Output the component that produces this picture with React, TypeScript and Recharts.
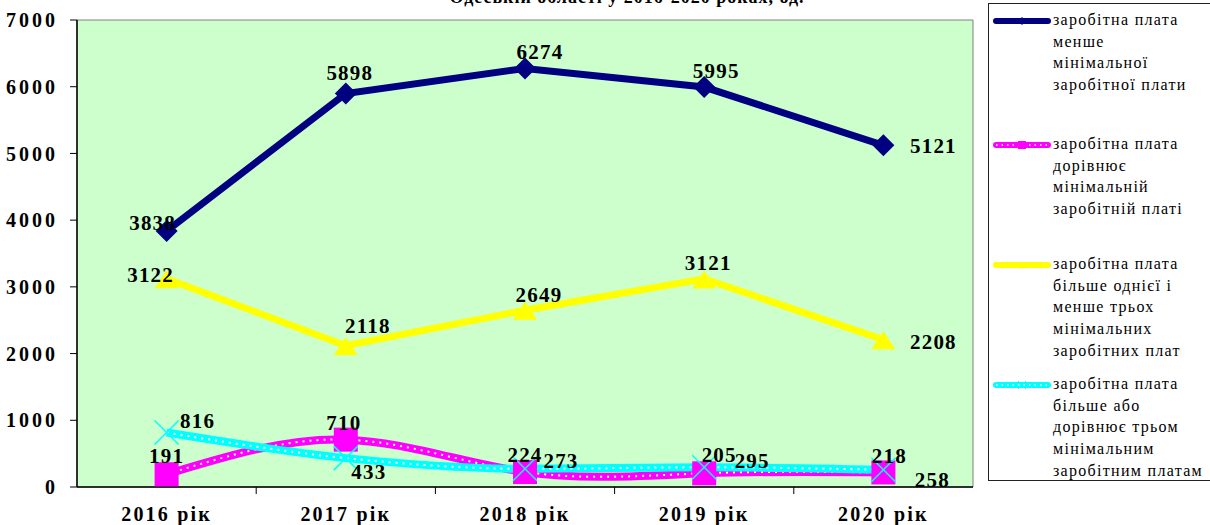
import React from 'react';
import {
  LineChart, Line, XAxis, YAxis, CartesianGrid, ReferenceArea, LabelList,
} from 'recharts';

const categories = ['2016 рік', '2017 рік', '2018 рік', '2019 рік', '2020 рік'];
const belowMin = [3838, 5898, 6274, 5995, 5121];
const equalMin = [191, 710, 224, 205, 218];
const oneToThree = [3122, 2118, 2649, 3121, 2208];
const threeOrMore = [816, 433, 273, 295, 258];
const yTicks = [0, 1000, 2000, 3000, 4000, 5000, 6000, 7000];

const data = categories.map((c, i) => ({
  idx: i,
  cat: c,
  belowMin: belowMin[i],
  equalMin: equalMin[i],
  oneToThree: oneToThree[i],
  threeOrMore: threeOrMore[i],
}));

const NAVY = '#000080';
const MAGENTA = '#FF00FF';
const YELLOW = '#FFFF00';
const CYAN = '#00FFFF';
const serif = '"Liberation Serif", "Times New Roman", serif';

// label offsets from the point (Excel-style placement)
const navyOff = [[-14, -8], [4, -21], [15, -16], [12, -16], [50, 1]];
const yellowOff = [[-16, -4], [22, -20], [14, -15], [4, -16], [50, 2]];
const cyanOff = [[31, -12], [23, 14], [36, -8], [48, -6], [49, 10]];
const magentaOff = [[0, -18], [-2, -17], [0, -17], [15, -18], [6, -16]];

function makeLabel(off: number[][]) {
  return (props: any) => {
    const { x, y, value, index } = props;
    const [dx, dy] = off[index] ?? [0, -16];
    return (
      <text
        x={x + dx}
        y={y + dy}
        textAnchor="middle"
        dominantBaseline="central"
        style={{ fontFamily: serif, fontWeight: 700, fontSize: 21, letterSpacing: 1.2 }}
        fill="#000"
      >
        {value}
      </text>
    );
  };
}

const Diamond = ({ cx, cy, r = 11, fill = NAVY }: any) => (
  <path d={`M${cx},${cy - r}L${cx + r},${cy}L${cx},${cy + r}L${cx - r},${cy}Z`} fill={fill} />
);
const Square = ({ cx, cy, s = 12, fill = MAGENTA }: any) => (
  <rect x={cx - s} y={cy - s} width={s * 2} height={s * 2} fill={fill} />
);
const Triangle = ({ cx, cy, s = 12, fill = YELLOW }: any) => (
  <path d={`M${cx},${cy - s * 0.7}L${cx + s},${cy + s * 0.8}L${cx - s},${cy + s * 0.8}Z`} fill={fill} />
);
const Cross = ({ cx, cy, s = 12, stroke = CYAN, w = 1.5 }: any) => (
  <g stroke={stroke} strokeWidth={w}>
    <line x1={cx - s} y1={cy - s} x2={cx + s} y2={cy + s} />
    <line x1={cx - s} y1={cy + s} x2={cx + s} y2={cy - s} />
  </g>
);

const XTick = (props: any) => {
  const { x, y, payload } = props;
  const v = payload.value;
  if (Number.isInteger(v)) {
    return (
      <text
        x={x}
        y={y + 34}
        textAnchor="middle"
        style={{ fontFamily: serif, fontWeight: 700, fontSize: 20, letterSpacing: 2.2 }}
        fill="#000"
      >
        {categories[v]}
      </text>
    );
  }
  return <line x1={x} y1={y} x2={x} y2={y + 7} stroke="#000" strokeWidth={1} />;
};

function LegendSample({ color, dotted, marker }: { color: string; dotted?: boolean; marker: React.ReactNode }) {
  return (
    <svg width={60} height={16} style={{ position: 'absolute', left: 3, top: 0 }}>
      <line x1={4} y1={8} x2={56} y2={8} stroke={color} strokeWidth={6} strokeLinecap="round" />
      {dotted && <line x1={4} y1={8} x2={56} y2={8} stroke="#fff" strokeWidth={1.5} strokeDasharray="1.5 4" />}
      {marker}
    </svg>
  );
}

const legendItems = [
  { top: 9, lines: ['заробітна плата', 'менше', 'мінімальної', 'заробітної плати'], color: NAVY, dotted: false,
    marker: <Diamond cx={30} cy={8} r={4} /> },
  { top: 133, lines: ['заробітна плата', 'дорівнює', 'мінімальній', 'заробітній платі'], color: MAGENTA, dotted: true,
    marker: <Square cx={30} cy={8} s={4} /> },
  { top: 253, lines: ['заробітна плата', 'більше однієї і', 'менше трьох', 'мінімальних', 'заробітних плат'], color: YELLOW, dotted: false,
    marker: <Triangle cx={30} cy={8} s={4} /> },
  { top: 373, lines: ['заробітна плата', 'більше або', 'дорівнює трьом', 'мінімальним', 'заробітним платам'], color: CYAN, dotted: true,
    marker: <Cross cx={30} cy={8} s={4} w={1} /> },
];

export default function App() {
  return (
    <div style={{ position: 'absolute', left: 0, top: 0, width: 1210, height: 525, overflow: 'hidden', background: '#fff' }}>
      <div
        style={{
          position: 'absolute', left: 427, top: -12, width: 400, textAlign: 'center', whiteSpace: 'nowrap',
          fontFamily: serif, fontWeight: 700, fontSize: 18, lineHeight: '18px', letterSpacing: 1,
        }}
      >
        Одеській області у 2016-2020 роках, од.
      </div>

      <LineChart width={1210} height={525} data={data} margin={{ top: 20, right: 237, bottom: 0, left: 0 }}>
        <CartesianGrid horizontal={false} vertical={false} fill="#CCFFCC" />
        <ReferenceArea x1={-0.5} x2={4.5} y1={0} y2={7000} fill="none" stroke="#808080" strokeWidth={1} />
        <XAxis
          dataKey="idx"
          type="number"
          domain={[-0.5, 4.5]}
          ticks={[0, 0.5, 1, 1.5, 2, 2.5, 3, 3.5, 4]}
          tick={<XTick />}
          tickLine={false}
          tickSize={0}
          tickMargin={0}
          axisLine={{ stroke: '#000', strokeWidth: 1.5 }}
          height={38}
          interval={0}
        />
        <YAxis
          domain={[0, 7000]}
          ticks={yTicks}
          width={77}
          tickSize={7}
          tickMargin={12}
          axisLine={{ stroke: '#000', strokeWidth: 1.5 }}
          tickLine={{ stroke: '#000' }}
          tick={{ fill: '#000', fontFamily: serif, fontWeight: 700, fontSize: 20, letterSpacing: 3 } as any}
        />

        {/* дорівнює мінімальній — товста пурпурна лінія з білими крапками */}
        <Line type="natural" dataKey="equalMin" stroke={MAGENTA} strokeWidth={8} dot={false} isAnimationActive={false} />
        <Line
          type="natural"
          dataKey="equalMin"
          stroke="#fff"
          strokeWidth={2}
          strokeDasharray="2 5"
          dot={(p: any) => <Square key={`sq-${p.index}`} cx={p.cx} cy={p.cy} />}
          isAnimationActive={false}
        >
          <LabelList dataKey="equalMin" content={makeLabel(magentaOff)} />
        </Line>

        {/* три і більше — блакитна */}
        <Line type="monotone" dataKey="threeOrMore" stroke={CYAN} strokeWidth={8} dot={false} isAnimationActive={false} />
        <Line
          type="monotone"
          dataKey="threeOrMore"
          stroke="#fff"
          strokeWidth={2}
          strokeDasharray="2 5"
          dot={(p: any) => <Cross key={`cr-${p.index}`} cx={p.cx} cy={p.cy} />}
          isAnimationActive={false}
        >
          <LabelList dataKey="threeOrMore" content={makeLabel(cyanOff)} />
        </Line>

        <Line
          type="linear"
          dataKey="oneToThree"
          stroke={YELLOW}
          strokeWidth={7}
          dot={(p: any) => <Triangle key={`tr-${p.index}`} cx={p.cx} cy={p.cy} />}
          isAnimationActive={false}
        >
          <LabelList dataKey="oneToThree" content={makeLabel(yellowOff)} />
        </Line>

        <Line
          type="linear"
          dataKey="belowMin"
          stroke={NAVY}
          strokeWidth={7}
          dot={(p: any) => <Diamond key={`dm-${p.index}`} cx={p.cx} cy={p.cy} />}
          isAnimationActive={false}
        >
          <LabelList dataKey="belowMin" content={makeLabel(navyOff)} />
        </Line>
      </LineChart>

      {/* Legend */}
      <div
        style={{
          position: 'absolute', left: 988, top: 3, width: 240, height: 478,
          border: '1px solid #222', background: '#fff', boxSizing: 'border-box',
        }}
      >
        {legendItems.map((it) => (
          <div key={it.top} style={{ position: 'absolute', left: 0, top: it.top, width: 240 }}>
            <LegendSample color={it.color} dotted={it.dotted} marker={it.marker} />
            <div
              style={{
                position: 'absolute', left: 64, top: -4, whiteSpace: 'nowrap',
                fontFamily: serif, fontSize: 16, lineHeight: '21.7px', letterSpacing: 1.3, color: '#000',
              }}
            >
              {it.lines.map((l) => <div key={l}>{l}</div>)}
            </div>
          </div>
        ))}
      </div>
    </div>
  );
}
